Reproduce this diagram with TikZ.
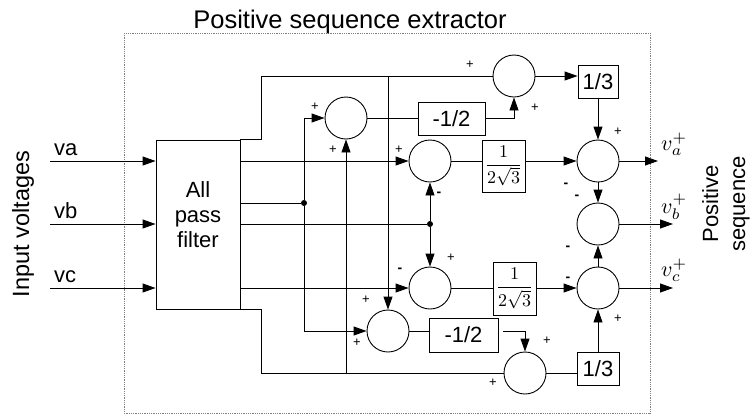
\documentclass[tikz,border=0pt]{standalone}
\usepackage{fontspec}
\setmainfont{Liberation Sans}
\usepackage{amsmath}
\usepackage{graphicx}
\usepackage{tikz}
\usetikzlibrary{arrows.meta,positioning,calc}
\definecolor{PSInk}{HTML}{000000}
\definecolor{PSFrame}{HTML}{808080}
\newcommand{\fracgain}{\scalebox{1.8}{$\dfrac{1}{2\sqrt{3}}$}}
\newcommand{\outsig}[1]{\scalebox{2.2}{$v_{#1}^+$}}
\tikzset{
  flow/.style={-{Triangle[length=13pt,width=9pt]},PSInk,line width=0.9pt},
  wire/.style={PSInk,line width=0.9pt},
  sumnode/.style={circle,draw=PSInk,line width=0.9pt,minimum size=42pt,inner sep=0pt},
  gain/.style={draw=PSInk,line width=0.9pt,inner sep=0pt,fill=white,
               font=\fontsize{22}{24}\selectfont},
  fracbox/.style={gain,font=\normalsize},
  block/.style={draw=PSInk,line width=0.9pt,inner sep=0pt},
  frame/.style={draw=PSFrame,line width=0.8pt,densely dotted},
  tap/.style={circle,fill=PSInk,inner sep=0pt,minimum size=6pt},
  sgn/.style={font=\fontsize{13}{14}\selectfont,inner sep=0pt},
  sgnminus/.style={font=\fontsize{14}{14}\selectfont\bfseries,inner sep=0pt},
  biglabel/.style={font=\fontsize{24}{28}\selectfont,inner sep=0pt},
  inlabel/.style={font=\fontsize{22}{24}\selectfont,inner sep=0pt,anchor=base west},
  outlabel/.style={font=\normalsize,inner sep=0pt,anchor=base west},
}

\begin{document}
\begin{tikzpicture}[x=1pt,y=-1pt]
    \useasboundingbox (0,0) rectangle (753,416);
    % --- frame and titles ---
    \draw[frame] (124,33) rectangle (650,413);
    \node[biglabel,anchor=base,font=\fontsize{25.5}{28}\selectfont] (title) at (350,28)
      {Positive sequence extractor};
    \node[biglabel,rotate=90,anchor=base,font=\fontsize{23.5}{28}\selectfont] (inputs)
      at (29,224) {Input voltages};
    \node[biglabel,rotate=90,align=center,font=\fontsize{22}{27}\selectfont] (outputs)
      at (726,204) {Positive\\sequence};

    % --- all pass filter ---
    \node[block,minimum width=84pt,minimum height=169pt] (apf) at (198,224.5) {};
    \node[biglabel,align=center,font=\fontsize{22}{25}\selectfont] (apftext) at (198,215)
      {All\\pass\\filter};
    \foreach \n/\y/\t in {a/161/va,b/224/vb,c/288/vc}{
      \coordinate (in\n) at (50,\y);
      \node[inlabel] (lbl\n) at (54,\y-6) {\t};
      \draw[flow] (in\n) -- (in\n -| apf.west);
    }

    % --- summing junctions ---
    \node[sumnode] (sTL)  at (346,118) {};
    \node[sumnode] (sTop) at (514,76)  {};
    \node[sumnode] (sMA)  at (430,161) {};
    \node[sumnode] (sMB)  at (430,288) {};
    \node[sumnode] (sBL)  at (388,331) {};
    \node[sumnode] (sBot) at (525,373) {};
    \node[sumnode] (sRA)  at (598,161) {};
    \node[sumnode] (sRB)  at (598,224) {};
    \node[sumnode] (sRC)  at (598,288) {};

    % --- gains ---
    \node[gain,minimum width=40pt,minimum height=33pt] (gThirdT) at (598,81.5) {1/3};
    \node[gain,minimum width=67pt,minimum height=33pt] (gHalfT) at (451.5,118.5) {-1/2};
    \node[fracbox,minimum width=43pt,minimum height=52pt] (gSqA) at (503.5,166) {\fracgain};
    \node[fracbox,minimum width=43pt,minimum height=53pt] (gSqC) at (514.5,288.5) {\fracgain};
    \node[gain,minimum width=69pt,minimum height=34pt] (gHalfB) at (463.5,335) {-1/2};
    \node[gain,minimum width=42pt,minimum height=33pt] (gThirdB) at (598,368.5) {1/3};

    % --- filter outputs ---
    \draw[wire] (apf.north east) -- ++(21,0) |- (sTop.west);
    \draw[wire] (apf.south east) -- ++(21,0) |- (sBot.west);
    \draw[flow] (sBL.north |- sTop) -- (sBL.north);
    \draw[flow] (sTL.south |- sBot) -- (sTL.south);
    \node[tap] (tapA) at (304,203) {};
    \draw[wire] (apf.east |- tapA) -- (tapA);
    \draw[flow] (tapA) |- (sTL.west);
    \draw[flow] (tapA) |- (sBL.west);
    \draw[flow] (apf.east |- sMA) -- (sMA.west);
    \node[tap] (tapB) at (430,224) {};
    \draw[wire] (apf.east |- tapB) -- (tapB);
    \draw[flow] (tapB) -- (sMA.south);
    \draw[flow] (tapB) -- (sMB.north);
    \draw[flow] (apf.east |- sMB) -- (sMB.west);

    % --- upper branch ---
    \draw[wire] (sTL.east) -- (sTL.east -| gHalfT.west);
    \draw[flow] (gHalfT.east) -| (sTop.south);
    \draw[flow] (sTop.east) -- (sTop.east -| gThirdT.west);
    \draw[flow] (gThirdT.south) -- (sRA.north);
    \draw[wire] (sMA.east) -- (sMA.east -| gSqA.west);
    \draw[flow] (gSqA.east |- sMA) -- (sRA.west);

    % --- lower branch ---
    \draw[wire] (sBL.east) -- (sBL.east -| gHalfB.west);
    \draw[flow] ($(gHalfB.east |- sBL)+(5,0)$) -| (sBot.north);
    \draw[wire] (sBot.east) -- (sBot.east -| gThirdB.west);
    \draw[flow] (gThirdB.north) -- (sRC.south);
    \draw[wire] (sMB.east) -- (sMB.east -| gSqC.west);
    \draw[flow] (gSqC.east |- sMB) -- (sRC.west);

    % --- output column ---
    \draw[flow] (sRA.south) -- (sRB.north);
    \draw[flow] (sRC.north) -- (sRB.south);
    \coordinate (outA) at (658,161);
    \coordinate (outB) at (673,224);
    \coordinate (outC) at (673,288);
    \draw[flow] (sRA.east) -- (outA);
    \draw[flow] (sRB.east) -- (outB);
    \draw[flow] (sRC.east) -- (outC);
    \node[outlabel] (lblA) at (661,150) {\outsig{a}};
    \node[outlabel] (lblB) at (661,213) {\outsig{b}};
    \node[outlabel] (lblC) at (661,276) {\outsig{c}};

    % --- signs ---
    \node[sgn] at (315,107) {+};
    \node[sgn] at (333,150) {+};
    \node[sgn] at (399,150) {+};
    \node[sgnminus] at (439,194) {-};
    \node[sgn] at (470,65) {+};
    \node[sgn] at (535,108) {+};
    \node[sgn] at (618,132) {+};
    \node[sgnminus] at (566,185) {-};
    \node[sgnminus] at (577,197) {-};
    \node[sgnminus] at (568,248) {-};
    \node[sgnminus] at (568,279) {-};
    \node[sgn] at (618,319) {+};
    \node[sgnminus] at (400,270) {-};
    \node[sgn] at (451,258) {+};
    \node[sgn] at (366,300) {+};
    \node[sgn] at (357,343) {+};
    \node[sgn] at (547,341) {+};
    \node[sgn] at (493,383) {+};
  \end{tikzpicture}
\end{document}
